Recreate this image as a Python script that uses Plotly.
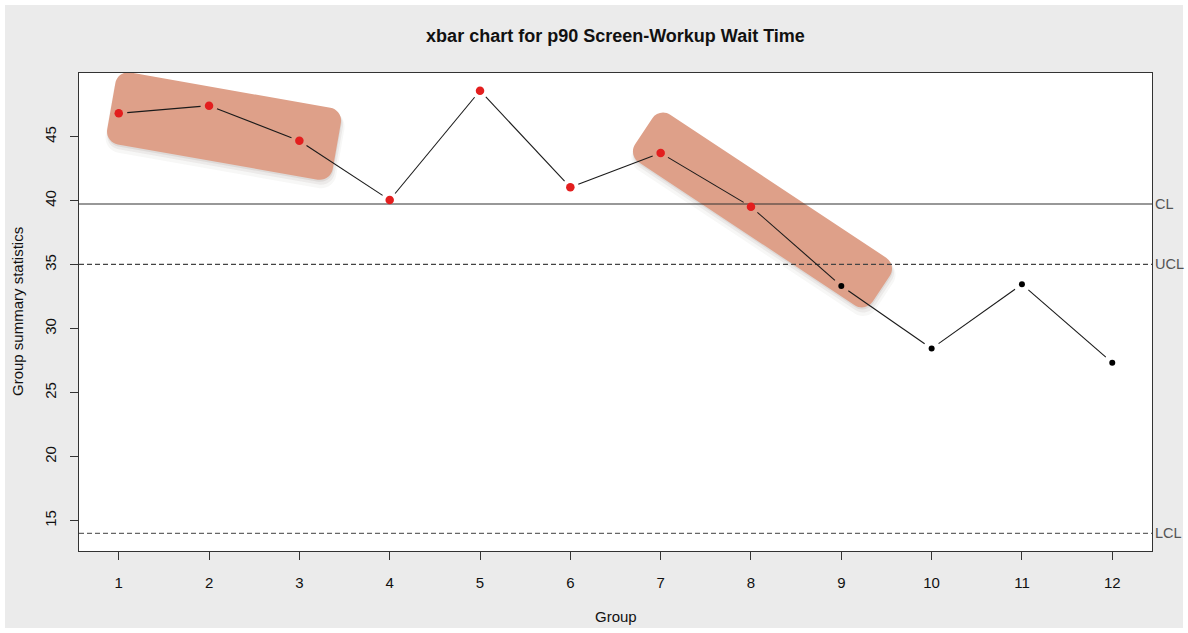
import math
import plotly.graph_objects as go

# ---------------- data ----------------
groups = list(range(1, 13))
group_stats = [46.82, 47.42, 44.68, 40.05, 48.59, 41.05, 43.72, 39.53, 33.34, 28.45, 33.47, 27.35]
flagged = [1, 1, 1, 1, 1, 1, 1, 1, 0, 0, 0, 0]   # red points
center_line = 39.74
ucl = 35.03
lcl = 14.02
limit_labels = ["CL", "UCL", "LCL"]
x_ticks = groups
y_ticks = [15, 20, 25, 30, 35, 40, 45]
title_text = "xbar chart for p90 Screen-Workup Wait Time"
x_title = "Group"
y_title = "Group summary statistics"

# highlight groups (first index, last index) + styling
highlights = [
    dict(first=0, last=2, angle=10.0, dx=15, dy=-1, length=229, thick=73, radius=13),
    dict(first=6, last=8, angle=33.5, dx=11.5, dy=-9.5, length=285, thick=57, radius=13),
]

# ---------------- geometry ----------------
W, H = 1188, 633
LM, RM, TM, BM = 79, 36, 73, 82
PW, PH = W - LM - RM, H - TM - BM

xr = [1 - 0.04 * 11, 12 + 0.04 * 11]
allv = group_stats + [center_line, ucl, lcl]
lo, hi = min(allv), max(allv)
pad = 0.04 * (hi - lo)
yr = [lo - pad, hi + pad]


def to_px(x, y):
    return (LM + (x - xr[0]) / (xr[1] - xr[0]) * PW,
            TM + (yr[1] - y) / (yr[1] - yr[0]) * PH)


def to_data(px, py):
    return (xr[0] + (px - LM) / PW * (xr[1] - xr[0]),
            yr[1] - (py - TM) / PH * (yr[1] - yr[0]))


def paper_x(px):
    return (px - LM) / PW


def paper_y(py):
    return 1 - (py - TM) / PH


FONT = "Liberation Sans, Arial, Helvetica, sans-serif"

fig = go.Figure()

# control lines
fig.add_trace(go.Scatter(x=xr, y=[center_line] * 2, mode="lines",
                         line=dict(color="#333333", width=1.2), hoverinfo="skip", showlegend=False))
fig.add_trace(go.Scatter(x=xr, y=[ucl] * 2, mode="lines",
                         line=dict(color="#444444", width=1.3, dash="5px,3px"), hoverinfo="skip", showlegend=False))
fig.add_trace(go.Scatter(x=xr, y=[lcl] * 2, mode="lines",
                         line=dict(color="#666666", width=1.2, dash="5px,3px"), hoverinfo="skip", showlegend=False))

# connecting line with gaps around points (R type="b")
gap = 8.5
lx, ly = [], []
for i in range(len(groups) - 1):
    p = to_px(groups[i], group_stats[i])
    q = to_px(groups[i + 1], group_stats[i + 1])
    dx, dy = q[0] - p[0], q[1] - p[1]
    d = math.hypot(dx, dy)
    ux, uy = dx / d, dy / d
    a = to_data(p[0] + ux * gap, p[1] + uy * gap)
    b = to_data(q[0] - ux * gap, q[1] - uy * gap)
    lx += [a[0], b[0], None]
    ly += [a[1], b[1], None]
fig.add_trace(go.Scatter(x=lx, y=ly, mode="lines", line=dict(color="#1a1a1a", width=1.1),
                         hoverinfo="skip", showlegend=False))

# points
fig.add_trace(go.Scatter(
    x=groups, y=group_stats, mode="markers",
    marker=dict(color=["#E31E1E" if f else "#000000" for f in flagged],
                size=[8.5 if f else 6 for f in flagged], line=dict(width=0), opacity=1),
    showlegend=False))

# highlight boxes
K = 0.5523


def rounded_path(cx, cy, ang, length, thick, r, grow=0.0):
    hl, ht = length / 2 + grow, thick / 2 + grow
    c, s = math.cos(math.radians(ang)), math.sin(math.radians(ang))

    def tr(a, b):
        px = cx + a * c - b * s
        py = cy + a * s + b * c
        X, Y = to_data(px, py)
        return f"{X:.5f},{Y:.5f}"

    corners = [((hl, -ht), (hl - r, -ht), (hl, -ht + r)),
               ((hl, ht), (hl, ht - r), (hl - r, ht)),
               ((-hl, ht), (-hl + r, ht), (-hl, ht - r)),
               ((-hl, -ht), (-hl, -ht + r), (-hl + r, -ht))]
    path = f"M {tr(-hl + r, -ht)}"
    for kc, p0, p3 in corners:
        path += f" L {tr(*p0)}"
        c1 = (p0[0] + K * (kc[0] - p0[0]), p0[1] + K * (kc[1] - p0[1]))
        c2 = (p3[0] + K * (kc[0] - p3[0]), p3[1] + K * (kc[1] - p3[1]))
        path += f" C {tr(*c1)} {tr(*c2)} {tr(*p3)}"
    return path + " Z"


shapes = []
for h in highlights:
    p = to_px(groups[h["first"]], group_stats[h["first"]])
    q = to_px(groups[h["last"]], group_stats[h["last"]])
    cx = (p[0] + q[0]) / 2 + h["dx"]
    cy = (p[1] + q[1]) / 2 + h["dy"]
    for off, g, op in [((1, 6), 2.5, 0.04), ((1, 4), 1, 0.06), ((0.5, 2), 0, 0.08)]:
        shapes.append(dict(type="path", xref="x", yref="y", layer="below",
                           path=rounded_path(cx + off[0], cy + off[1], h["angle"], h["length"],
                                             h["thick"], h["radius"] + g, g),
                           fillcolor=f"rgba(60,40,30,{op})", line=dict(width=0)))
    shapes.append(dict(type="path", xref="x", yref="y", layer="below",
                       path=rounded_path(cx, cy, h["angle"], h["length"], h["thick"], h["radius"]),
                       fillcolor="rgb(222,160,137)", line=dict(width=0)))

# thin white outer border
bw = 5
for (x0, x1, y0, y1) in [(0, W, 0, bw), (0, W, H - bw, H), (0, bw, 0, H), (W - bw, W, 0, H)]:
    shapes.append(dict(type="rect", xref="paper", yref="paper", layer="above",
                       x0=paper_x(x0), x1=paper_x(x1), y0=paper_y(y1), y1=paper_y(y0),
                       fillcolor="white", line=dict(width=0)))

annotations = []
for lab, val in zip(limit_labels, [center_line, ucl, lcl]):
    annotations.append(dict(x=1, xref="paper", y=val, yref="y", text=lab, showarrow=False,
                            xanchor="left", xshift=1, yanchor="middle",
                            font=dict(family=FONT, size=14.5, color="#555555")))
annotations.append(dict(x=0.5, xref="paper", y=paper_y(616), yref="paper", text=x_title,
                        showarrow=False, xanchor="center", yanchor="middle",
                        font=dict(family=FONT, size=15, color="#111111")))
annotations.append(dict(x=paper_x(17), xref="paper", y=0.5, yref="paper", text=y_title,
                        showarrow=False, textangle=-90, xanchor="center", yanchor="middle",
                        font=dict(family=FONT, size=15, color="#111111")))

fig.update_layout(
    width=W, height=H,
    margin=dict(l=LM, r=RM, t=TM, b=BM, autoexpand=False),
    paper_bgcolor="#EBEBEB", plot_bgcolor="white",
    title=dict(text=f"<b>{title_text}</b>", x=paper_x(615.5), xref="paper", xanchor="center",
               y=1 - 36 / H, yref="container", yanchor="middle",
               font=dict(family=FONT, size=18, color="#111111")),
    shapes=shapes, annotations=annotations, showlegend=False,
    xaxis=dict(range=xr, tickmode="array", tickvals=x_ticks, ticktext=[str(t) for t in x_ticks],
               showgrid=False, zeroline=False, showline=True, mirror=True, linecolor="#333333",
               linewidth=1.2, ticks="outside", ticklen=8, tickwidth=1.2, tickcolor="#333333",
               tickfont=dict(family=FONT, size=15, color="#111111"), ticklabelstandoff=10),
    yaxis=dict(range=yr, tickmode="array", tickvals=y_ticks, ticktext=[str(t) for t in y_ticks],
               showgrid=False, zeroline=False, showline=True, mirror=True, linecolor="#333333",
               linewidth=1.2, ticks="outside", ticklen=8, tickwidth=1.2, tickcolor="#333333",
               tickangle=-90, tickfont=dict(family=FONT, size=15, color="#111111"),
               ticklabelstandoff=8),
)

fig.write_html("out.html", config={"displayModeBar": False},
               post_script="document.body.style.margin='0';document.body.style.padding='0';"
                           "document.documentElement.style.overflow='hidden';")
